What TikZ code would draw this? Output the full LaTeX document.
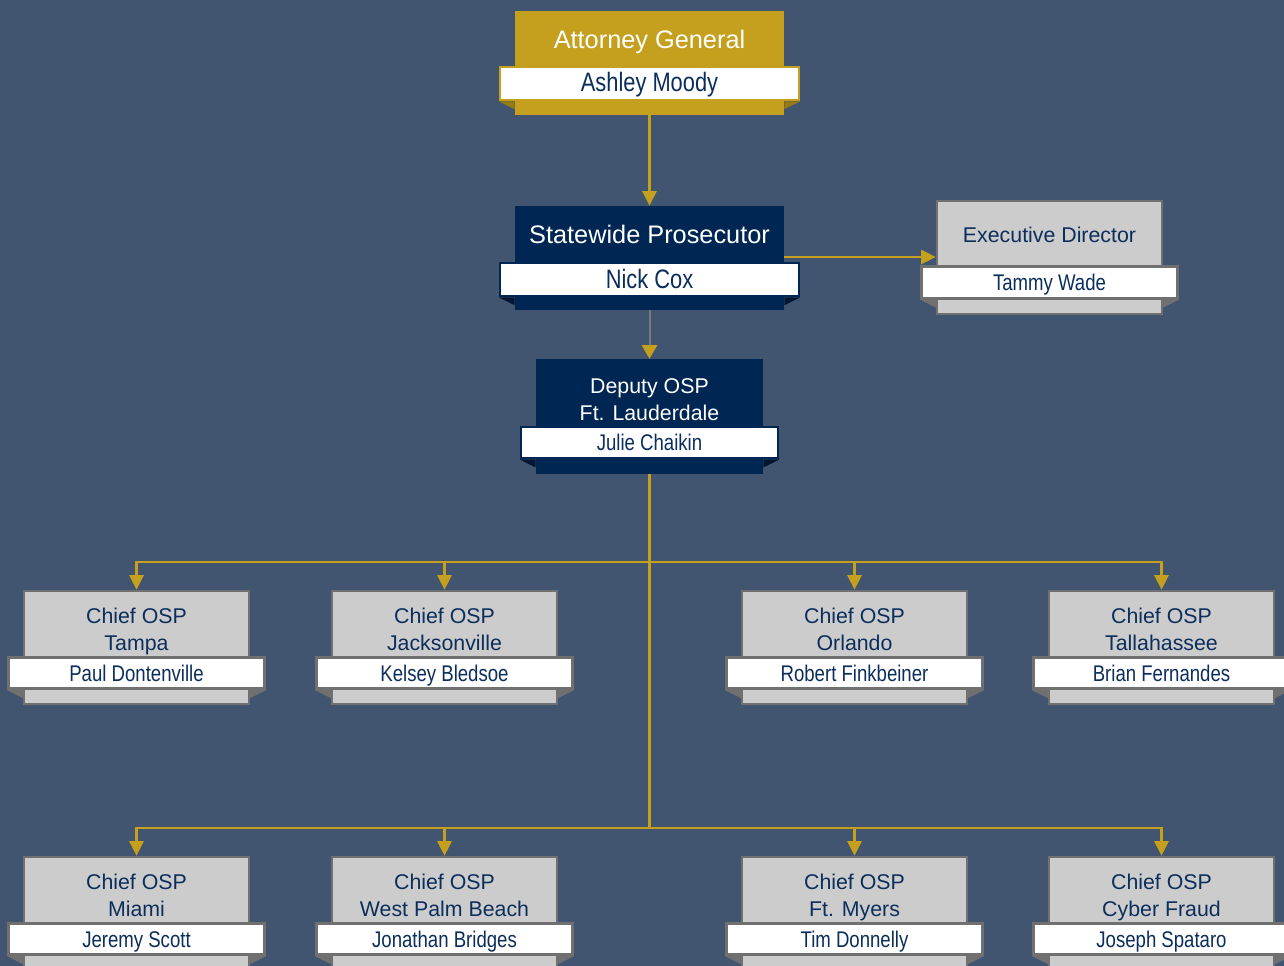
\documentclass[tikz,border=0pt]{standalone}
\usepackage{fontspec}
\setmainfont{Liberation Sans}
\newfontfamily\namefont[FakeStretch=0.82]{Liberation Sans}
\usetikzlibrary{arrows.meta}
\definecolor{bg}{RGB}{65,84,112}
\definecolor{gold}{RGB}{196,160,30}
\definecolor{golddk}{RGB}{150,122,20}
\definecolor{navy}{RGB}{0,38,84}
\definecolor{navydk}{RGB}{0,22,50}
\definecolor{txt}{RGB}{12,46,92}
\definecolor{boxgray}{RGB}{204,204,204}
\definecolor{edgegray}{RGB}{112,112,112}
\definecolor{linegray}{RGB}{120,120,120}
\tikzset{
  conn/.style={draw=gold, line width=2pt},
  arr/.style={conn, -{Triangle[width=10.5pt,length=11pt]}},
  bigbox/.style={minimum width=201.75pt, minimum height=78pt, inner sep=0pt},
  goldbox/.style={bigbox, fill=gold},
  navybox/.style={bigbox, fill=navy},
  bigrib/.style={minimum width=224.25pt, minimum height=24.75pt, inner sep=0pt, fill=white, line width=2pt},
  goldrib/.style={bigrib, draw=gold},
  navyrib/.style={bigrib, draw=navy},
  lbl/.style={anchor=base, inner sep=0pt},
  bigtitle/.style={lbl, font=\fontsize{19}{22}\selectfont, text=white},
  bigname/.style={lbl, font=\namefont\fontsize{20}{24}\selectfont, text=txt},
  graybox/.style={minimum width=168.75pt, minimum height=84.75pt, inner sep=0pt, fill=boxgray, draw=edgegray, line width=1.8pt},
  grayrib/.style={minimum width=192pt, minimum height=23.5pt, inner sep=0pt, fill=white, draw=edgegray, line width=2.2pt},
  deputybox/.style={minimum width=170.25pt, minimum height=86.25pt, inner sep=0pt, fill=navy},
  deputyrib/.style={minimum width=192.75pt, minimum height=23.25pt, inner sep=0pt, fill=white, draw=navy, line width=2.2pt},
  smalltitle/.style={lbl, font=\fontsize{16}{20}\selectfont, text=txt},
  smallname/.style={lbl, font=\namefont\fontsize{17}{20}\selectfont, text=txt},
}
\newcommand\folds[3]{%
  \fill[#3] (#1.south west) -- (#2.west |- #1.south) -- ([yshift=-6pt]#2.west |- #1.south) -- cycle;
  \fill[#3] (#1.south east) -- (#2.east |- #1.south) -- ([yshift=-6pt]#2.east |- #1.south) -- cycle;
}
\newcommand\chief[6]{% name, x, boxcy, ribcy, line2, person
  \node[graybox] (#1) at (#2,#3) {};
  \node[smalltitle] (#1a) at (#2,#3-24) {Chief OSP};
  \node[smalltitle] (#1b) at (#2,#3+3) {#5};
  \node[grayrib] (#1r) at (#2,#4) {};
  \folds{#1r}{#1}{edgegray}
  \node[smallname] (#1n) at (#2,#4+8.5) {#6};
}
\begin{document}
\begin{tikzpicture}[x=0.75pt,y=-0.75pt]
\fill[bg] (0,0) rectangle (1284,966);
\useasboundingbox (0,0) rectangle (1284,966);

% coordinates for connectors
\coordinate (j1) at (649.5,562);
\coordinate (j2) at (649.5,828);

% connectors
\draw[conn] (649.5,474) -- (j2);
\draw[conn] (136.5,562) -- (1161.5,562);
\draw[conn] (136.5,828) -- (1161.5,828);

% Attorney General
\node[goldbox] (ag) at (649.5,63) {};
\node[bigtitle] (agt) at (649.5,48.5) {Attorney General};
\node[goldrib] (agr) at (649.5,83.5) {};
\folds{agr}{ag}{golddk}
\node[bigname] (agn) at (649.5,92) {Ashley Moody};

% Statewide Prosecutor
\node[navybox] (sp) at (649.5,258) {};
\node[bigtitle] (spt) at (649.5,243.5) {Statewide Prosecutor};
\node[navyrib] (spr) at (649.5,279.5) {};
\folds{spr}{sp}{navydk}
\node[bigname] (spn) at (649.5,288) {Nick Cox};

% Executive Director
\node[graybox] (ed) at (1049.5,257.5) {};
\node[smalltitle] (edt) at (1049.5,243) {Executive Director};
\node[grayrib] (edr) at (1049.5,282.5) {};
\folds{edr}{ed}{edgegray}
\node[smallname] (edn) at (1049.5,290) {Tammy Wade};

% Deputy
\node[deputybox] (dp) at (649.5,416.5) {};
\node[smalltitle, text=white] (dpt1) at (649.5,393) {Deputy OSP};
\node[smalltitle, text=white] (dpt2) at (649.5,420) {Ft. Lauderdale};
\node[deputyrib] (dpr) at (649.5,442.5) {};
\folds{dpr}{dp}{navydk}
\node[smallname] (dpn) at (649.5,450) {Julie Chaikin};

% Chiefs
\chief{c1}{136.5}{647.5}{673}{Tampa}{Paul Dontenville}
\chief{c2}{444.5}{647.5}{673}{Jacksonville}{Kelsey Bledsoe}
\chief{c3}{854.5}{647.5}{673}{Orlando}{Robert Finkbeiner}
\chief{c4}{1161.5}{647.5}{673}{Tallahassee}{Brian Fernandes}
\chief{c5}{136.5}{913.5}{939}{Miami}{Jeremy Scott}
\chief{c6}{444.5}{913.5}{939}{West Palm Beach}{Jonathan Bridges}
\chief{c7}{854.5}{913.5}{939}{Ft. Myers}{Tim Donnelly}
\chief{c8}{1161.5}{913.5}{939}{Cyber Fraud}{Joseph Spataro}

% arrows
\draw[arr] (ag.south) -- (sp.north);
\draw[arr] (sp.east |- 0,257) -- (ed.west |- 0,257);
\draw[line width=1.5pt, draw=linegray] (sp.south) -- (649.5,345);
\fill[gold] (641.5,345) -- (657.5,345) -- (dp.north) -- cycle;
\draw[arr] (j1) -| (c1.north);
\draw[arr] (j1) -| (c2.north);
\draw[arr] (j1) -| (c3.north);
\draw[arr] (j1) -| (c4.north);
\draw[arr] (j2) -| (c5.north);
\draw[arr] (j2) -| (c6.north);
\draw[arr] (j2) -| (c7.north);
\draw[arr] (j2) -| (c8.north);
\draw[conn] (dp.south) -- (j1);
\end{tikzpicture}
\end{document}
